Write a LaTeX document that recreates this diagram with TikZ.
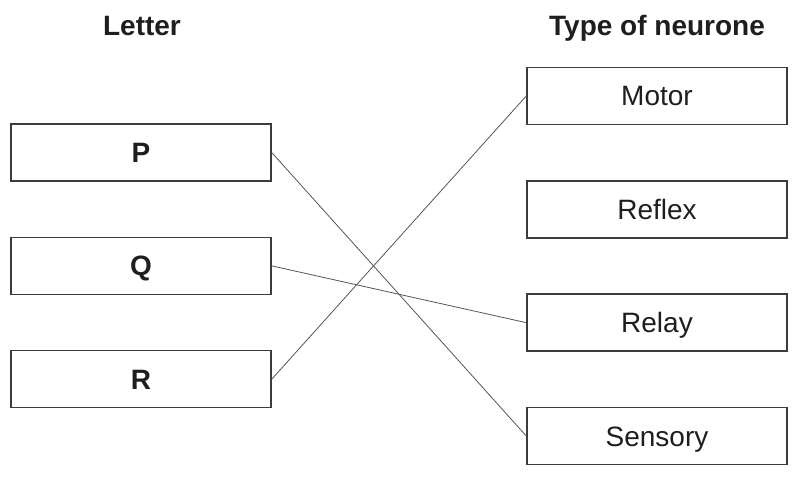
\documentclass[tikz,border=0pt]{standalone}
\usepackage{fontspec}
\setmainfont{Liberation Sans}
\usepackage{xcolor}
\definecolor{Edge}{RGB}{60,60,60}
\definecolor{Wire}{RGB}{85,85,85}
\definecolor{Ink}{RGB}{30,30,30}
\usetikzlibrary{shapes}
\tikzstyle{box} = [rectangle, draw=Edge, line width=1.1pt, text=Ink,
    minimum width=195pt, minimum height=42.75pt, inner sep=0pt,
    text height=15pt, text depth=0pt,
    font=\fontsize{21}{25}\selectfont]
\tikzstyle{letter} = [box, font=\fontsize{21}{25}\selectfont\bfseries]
\tikzstyle{head} = [text=Ink, anchor=base, inner sep=0pt,
    font=\fontsize{21}{25}\selectfont\bfseries]
\tikzstyle{link} = [draw=Wire, line width=0.6pt]

\begin{document}
\begin{tikzpicture}[node distance = 85pt]
  \useasboundingbox (0,0) rectangle (594.75pt,-357.75pt);
  \node [head] (LetterHead) at (106.5pt,-27pt) {Letter};
  \node [head] (TypeHead) at (492.75pt,-27pt) {Type of neurone};
  %
  \node [letter] (P) at (105.75pt,-114.4pt) {P};
  \node [letter, below of = P] (Q) {Q};
  \node [letter, below of = Q] (R) {R};
  %
  \node [box] (Motor) at (492.75pt,-72pt) {Motor};
  \node [box, below of = Motor] (Reflex) {Reflex};
  \node [box, below of = Reflex] (Relay) {Relay};
  \node [box, below of = Relay] (Sensory) {Sensory};
  %
  \path [link] (P.east) -- (Sensory.west);
  \path [link] (Q.east) -- (Relay.west);
  \path [link] (R.east) -- (Motor.west);
\end{tikzpicture}
\end{document}
